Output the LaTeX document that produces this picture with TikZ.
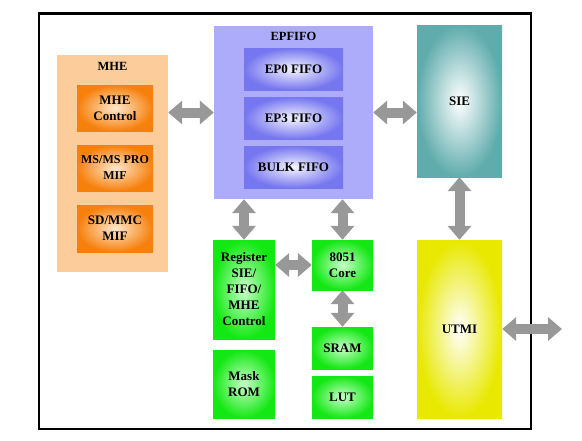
\documentclass[tikz,border=0pt]{standalone}
\usepackage{fontspec}
\setmainfont{Liberation Serif}
\usetikzlibrary{arrows.meta}
\definecolor{peach}{RGB}{252,204,155}
\definecolor{orangeE}{RGB}{246,128,12}
\definecolor{orangeC}{RGB}{255,232,205}
\definecolor{lav}{RGB}{172,172,250}
\definecolor{blueE}{RGB}{118,118,240}
\definecolor{blueC}{RGB}{245,245,255}
\definecolor{tealE}{RGB}{96,172,172}
\definecolor{yelE}{RGB}{232,232,0}
\definecolor{greenE}{RGB}{20,232,20}
\definecolor{greenC}{RGB}{200,255,200}
\definecolor{arrowgray}{RGB}{152,152,152}
\begin{document}
\begin{tikzpicture}[x=1pt,y=-1pt,
  lbl/.style={inner sep=0pt, align=center, font=\fontsize{13}{16}\selectfont\bfseries},
  box/.style={lbl, draw=none, minimum width=#1},
  plainbox/.style={inner sep=0pt, draw=none},
  orangebox/.style={lbl, inner color=orangeC, outer color=orangeE, minimum width=76pt, minimum height=46pt},
  fifobox/.style={lbl, inner color=blueC, outer color=blueE, minimum width=99pt, minimum height=42pt},
  greenbox/.style={lbl, inner color=greenC, outer color=greenE},
  biarrow/.style={draw=arrowgray, line width=10pt,
    {Triangle[width=23pt,length=14pt]}-{Triangle[width=23pt,length=14pt]}},
  ttl/.style={lbl, font=\fontsize{12.5}{15}\selectfont\bfseries}
]
\useasboundingbox (0,0) rectangle (582,440);
\fill[white] (0,0) rectangle (582,440);
\draw[line width=2.7pt] (39,13.5) rectangle (531,429);

% MHE group
\node[plainbox, fill=peach, minimum width=111pt, minimum height=217pt] (mhe) at (112.5,163.5) {};
\node[ttl] (mhet) at (112.5,66) {MHE};
\node[orangebox] (mhectl) at (115,108) {MHE\\Control};
\node[orangebox, font=\fontsize{12}{16}\selectfont\bfseries] (msmif) at (115,168) {MS/MS PRO\\MIF};
\node[orangebox, minimum height=47pt] (sdmif) at (115,228.5) {SD/MMC\\MIF};

% EPFIFO group
\node[plainbox, fill=lav, minimum width=159pt, minimum height=173pt] (epfifo) at (293.5,112.5) {};
\node[ttl] (epfifot) at (293.5,36) {EPFIFO};
\node[fifobox] (ep0) at (293.5,69) {EP0 FIFO};
\node[fifobox] (ep3) at (293.5,118) {EP3 FIFO};
\node[fifobox] (bulk) at (293.5,167) {BULK FIFO};

% SIE, UTMI
\node[lbl, inner color=white, outer color=tealE, minimum width=85pt, minimum height=152pt] (sie) at (459.5,101) {SIE};
\node[lbl, inner color=white, outer color=yelE, minimum width=85pt, minimum height=178pt] (utmi) at (459.5,329) {UTMI};

% green blocks
\node[greenbox, minimum width=62pt, minimum height=99pt] (reg) at (244,289.5) {Register\\SIE/\\FIFO/\\MHE\\Control};
\node[greenbox, minimum width=62pt, minimum height=68pt] (mask) at (244,384) {Mask\\ROM};
\node[greenbox, minimum width=61pt, minimum height=50pt] (core) at (342.5,265) {8051\\Core};
\node[greenbox, minimum width=61pt, minimum height=42pt] (sram) at (342.5,348) {SRAM};
\node[greenbox, minimum width=61pt, minimum height=42pt] (lut) at (342.5,397) {LUT};

\coordinate (out) at (562,329);

% connectors
\draw[biarrow] (mhe.east |- epfifo.west) -- (epfifo.west);
\draw[biarrow] (epfifo.east) -- (sie.west |- epfifo.east);
\draw[biarrow] (sie.south) -- (utmi.north);
\draw[biarrow] (utmi.east) -- (out);
\draw[biarrow] (reg.north |- epfifo.south) -- (reg.north);
\draw[biarrow] (core.north |- epfifo.south) -- (core.north);
\draw[biarrow] (reg.east |- core.west) -- (core.west);
\draw[biarrow] (core.south) -- (sram.north);
\end{tikzpicture}
\end{document}
